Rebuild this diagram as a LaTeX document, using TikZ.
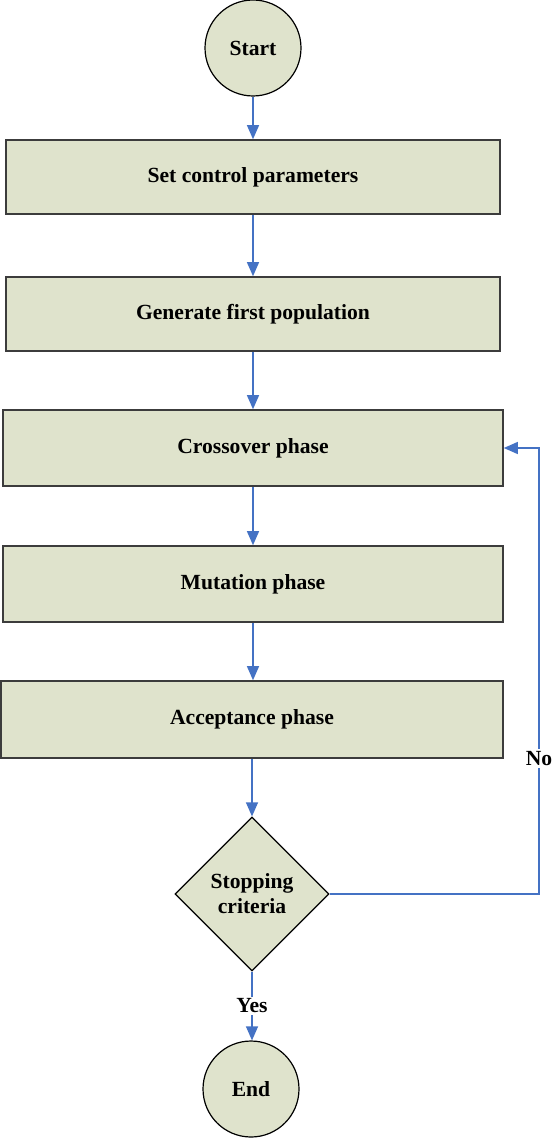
\documentclass[tikz,border=0pt]{standalone}
\usepackage{fontspec}
\setmainfont{Liberation Serif}
\usepackage{tikz}
\usetikzlibrary{shapes, arrows.meta, positioning}
\usetikzlibrary{shapes.geometric}

\definecolor{boxfill}{HTML}{DFE3CC}
\definecolor{boxline}{HTML}{3C3C3C}
\definecolor{flowblue}{HTML}{4472C4}

\tikzset{
  phase/.style={draw=boxline, line width=0.8pt, fill=boxfill, rectangle,
    minimum width=247pt, minimum height=37pt, font=\fontsize{10.8}{13}\selectfont\bfseries},
  terminal/.style={draw=black, line width=0.6pt, fill=boxfill, circle,
    minimum size=48pt, inner sep=0pt, font=\fontsize{10.8}{13}\selectfont\bfseries},
  decision/.style={draw=black, line width=0.6pt, fill=boxfill, diamond,
    aspect=1, minimum width=77pt, minimum height=77pt, inner sep=0pt,
    align=center, font=\fontsize{10.8}{12.5}\selectfont\bfseries},
  flowlabel/.style={fill=white, inner sep=1pt, font=\fontsize{10.8}{13}\selectfont\bfseries},
  flow/.style={draw=flowblue, line width=0.6pt,
    -{Triangle[width=6pt, length=7pt]}}
}

\begin{document}
\begin{tikzpicture}[x=0.5pt, y=-0.5pt]
  \useasboundingbox (0,0) rectangle (552,1138);

  \node[terminal] (start) at (253, 48) {Start};
  \node[phase] (param) at (253, 177) {Set control parameters};
  \node[phase] (init) at (253, 314) {Generate first population};
  \node[phase, minimum width=250pt, minimum height=38pt] (cross) at (253, 448) {Crossover phase};
  \node[phase, minimum width=250pt, minimum height=38pt] (mut) at (253, 584) {Mutation phase};
  \node[phase, minimum width=251pt, minimum height=38.5pt] (accept) at (252, 719.5) {Acceptance phase};
  \node[decision] (stop) at (252, 894) {Stopping\\criteria};
  \node[terminal] (end) at (251, 1089) {End};
  \coordinate (back) at (539, 448);

  \draw[flow] (start) -- (param);
  \draw[flow] (param) -- (init);
  \draw[flow] (init) -- (cross);
  \draw[flow] (cross) -- (mut);
  \draw[flow] (mut) -- (accept.north -| mut);
  \draw[flow] (accept.south -| stop) -- (stop);
  \draw[flow] (stop.south) -- node[flowlabel] {Yes} (end.north -| stop);
  % loop back when criteria not met
  \draw[flow] (stop.east) -| node[flowlabel, pos=0.652] {No} (back) -- (cross.east);
\end{tikzpicture}
\end{document}
